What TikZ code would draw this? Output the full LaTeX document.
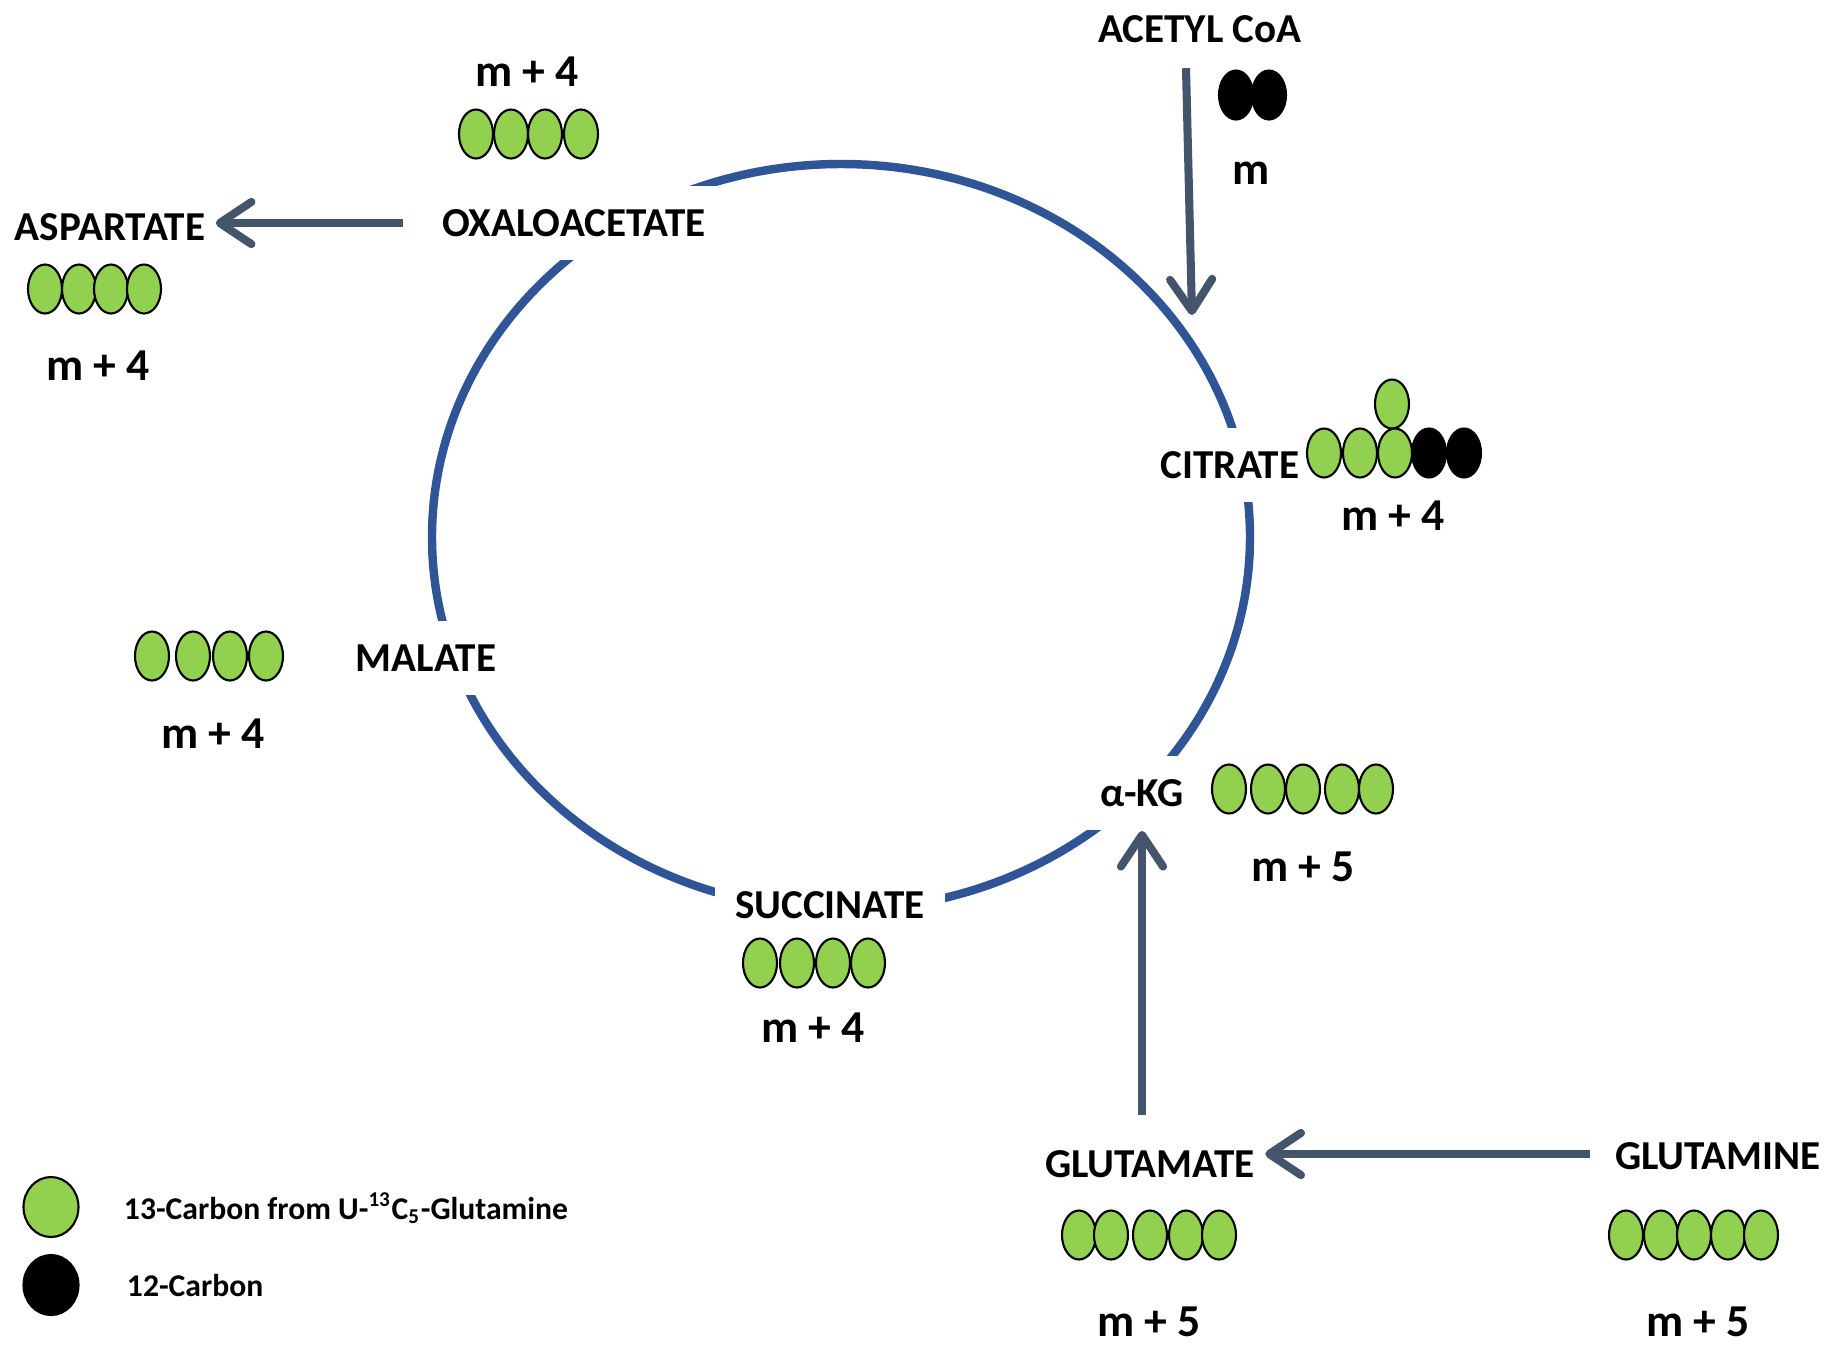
\documentclass[tikz,border=0pt]{standalone}
\usepackage{fontspec}
\setmainfont{Carlito}
\usepackage{tikz}
\usetikzlibrary{arrows.meta}
\usetikzlibrary{positioning}
\usetikzlibrary{calc}

\definecolor{cycblue}{RGB}{47,85,151}
\definecolor{slate}{RGB}{68,84,106}
\definecolor{cgreen}{RGB}{146,208,80}

\newcommand{\lblfont}{\fontsize{11.7pt}{14pt}\selectfont\bfseries}
\newcommand{\massfont}{\fontsize{13pt}{15pt}\selectfont\bfseries}
\newcommand{\legfont}{\fontsize{9pt}{11pt}\selectfont\bfseries}

\tikzset{
  met/.style={font=\lblfont, fill=white, inner xsep=5.7pt, inner ysep=6.7pt},
  ext/.style={font=\lblfont, inner sep=2.8pt},
  mass/.style={font=\massfont, inner sep=2pt},
  legtxt/.style={font=\legfont, inner sep=1.5pt, anchor=west},
  flux/.style={draw=slate, line width=2.3pt, -{Straight Barb[length=9pt,width=12pt,round]}},
  cyc/.style={draw=cycblue, line width=2.4pt},
  cthirteen/.style={draw=black, fill=cgreen, line width=0.6pt},
  ctwelve/.style={draw=black, fill=black, line width=0.6pt}
}

\begin{document}
\begin{tikzpicture}
  \useasboundingbox (0,0) rectangle (18.32,-13.47);

  \def\rx{0.17};
  \def\ry{0.245};

  %cycle
  \draw[cyc] (8.41,-5.37) ellipse [x radius=4.09, y radius=3.73];

  %metabolites on the cycle
  \node[met] (oxa) at (5.74,-2.23) {OXALOACETATE};
  \node[met] (cit) at (12.30,-4.65) {CITRATE};
  \node[met] (akg) at (11.42,-7.93) {α-KG};
  \node[met] (suc) at (8.30,-9.05) {SUCCINATE};
  \node[met] (mal) at (4.26,-6.58) {MALATE};

  %metabolites outside
  \node[ext] (acoa) at (12.00,-0.29) {ACETYL CoA};
  \node[ext] (asp) at (1.10,-2.27) {ASPARTATE};
  \node[ext] (glu) at (11.50,-11.64) {GLUTAMATE};
  \node[ext] (gln) at (17.18,-11.56) {GLUTAMINE};

  %mass labels
  \foreach \x/\y/\num/\name in {12.51/-1.73/m/acm, 5.27/-0.72/m + 4/oxam, 0.98/-3.66/m + 4/aspm,
      13.93/-5.16/m + 4/citm, 2.13/-7.34/m + 4/malm, 13.03/-8.67/m + 5/akgm,
      8.13/-10.28/m + 4/sucm, 11.49/-13.22/m + 5/glum, 16.98/-13.22/m + 5/glnm}{
    \node[mass] (\name) at (\x,\y) {\num};
  }

  %fluxes
  \coordinate (citin) at (11.92,-3.15);
  \draw[flux] ([xshift=-0.14cm,yshift=-0.15cm]acoa.south) -- (citin);
  \draw[flux, shorten <=0.19cm] (oxa.west) -- (oxa.west -| asp.east);
  \draw[flux, shorten <=0.25cm] (glu.north -| akg.south) -- (akg.south);
  \draw[flux, shorten <=0.15cm] ([yshift=0.02cm]gln.west) -- ([yshift=0.02cm]gln.west -| glu.east);

  %carbons
  \def\dy{-1.34};
  \foreach \x in {4.76,5.11,5.45,5.81}{
    \filldraw[cthirteen] (\x,\dy) ellipse [x radius=\rx, y radius=\ry];
  }

  \def\dy{-2.89};
  \foreach \x in {0.45,0.79,1.11,1.44}{
    \filldraw[cthirteen] (\x,\dy) ellipse [x radius=\rx, y radius=\ry];
  }

  \def\dy{-0.95};
  \foreach \x in {12.36,12.69}{
    \filldraw[ctwelve] (\x,\dy) ellipse [x radius=\rx, y radius=\ry];
  }

  \def\dy{-4.53};
  \filldraw[cthirteen] (13.92,-4.04) ellipse [x radius=\rx, y radius=\ry];
  \foreach \x/\c in {13.24/cthirteen,13.60/cthirteen,13.95/cthirteen,14.29/ctwelve,14.64/ctwelve}{
    \filldraw[\c] (\x,\dy) ellipse [x radius=\rx, y radius=\ry];
  }

  \def\dy{-6.56};
  \foreach \x in {1.52,1.93,2.30,2.66}{
    \filldraw[cthirteen] (\x,\dy) ellipse [x radius=\rx, y radius=\ry];
  }

  \def\dy{-7.89};
  \foreach \x in {12.29,12.68,13.03,13.42,13.76}{
    \filldraw[cthirteen] (\x,\dy) ellipse [x radius=\rx, y radius=\ry];
  }

  \def\dy{-9.63};
  \foreach \x in {7.60,7.97,8.33,8.68}{
    \filldraw[cthirteen] (\x,\dy) ellipse [x radius=\rx, y radius=\ry];
  }

  \def\dy{-12.35};
  \foreach \x in {10.79,11.11,11.50,11.86,12.19, 16.26,16.61,16.94,17.28,17.61}{
    \filldraw[cthirteen] (\x,\dy) ellipse [x radius=\rx, y radius=\ry];
  }

  %legend
  \filldraw[cthirteen] (0.51,-12.07) ellipse [x radius=0.275, y radius=0.30];
  \filldraw[ctwelve] (0.51,-12.85) ellipse [x radius=0.275, y radius=0.30];
  \node[legtxt] (leg13) at (1.18,-12.08) {13-Carbon from U-\textsuperscript{13}C\textsubscript{5}-Glutamine};
  \node[legtxt] (leg12) at (1.21,-12.85) {12-Carbon};

\end{tikzpicture}
\end{document}
